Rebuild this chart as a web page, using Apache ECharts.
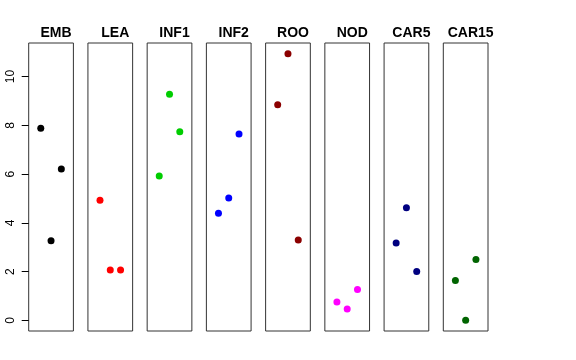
<!DOCTYPE html>
<html><head><meta charset="utf-8">
<script src="https://cdn.jsdelivr.net/npm/echarts@6/dist/echarts.min.js"></script>
<style>html,body{margin:0;padding:0;background:#fff}#c{width:576px;height:360px}</style>
</head><body><div id="c"></div>
<script>
var categories = ['EMB','LEA','INF1','INF2','ROO','NOD','CAR5','CAR15'];
var colors = ['#000000','#FF0000','#00CD00','#0000FF','#8B0000','#FF00FF','#000080','#006400'];
var xPositions = [0.77, 1.0, 1.23];
var EMB = [7.88, 3.26, 6.21];
var LEA = [4.93, 2.06, 2.06];
var INF1 = [5.92, 9.28, 7.74];
var INF2 = [4.39, 5.02, 7.64];
var ROO = [8.84, 10.94, 3.30];
var NOD = [0.75, 0.46, 1.26];
var CAR5 = [3.17, 4.62, 2.00];
var CAR15 = [1.63, 0.00, 2.50];
var yTicks = [0, 2, 4, 6, 8, 10];
var seriesValues = [EMB, LEA, INF1, INF2, ROO, NOD, CAR5, CAR15];

var yMin = -0.4376, yMax = 11.3776;
var left0 = 28.7, step = 59.23, panelW = 44.7, gridTop = 43, panelH = 288;
var grids = [], xAxes = [], yAxes = [], series = [], titles = [];
categories.forEach(function(name, i){
  var l = left0 + i*step;
  grids.push({left: l, top: gridTop, width: panelW, height: panelH, show: true, borderColor: '#333', borderWidth: 1, backgroundColor: 'transparent'});
  xAxes.push({type:'value', gridIndex:i, min:0.5, max:1.5, show:false});
  var ya = {type:'value', gridIndex:i, min:yMin, max:yMax, splitLine:{show:false}};
  if (i === 0) {
    ya.axisLine = {show:false};
    ya.axisTick = {show:true, length:7, customValues: yTicks, lineStyle:{color:'#000'}};
    ya.axisLabel = {show:true, customValues: yTicks, rotate:90, margin:12, fontSize:12, color:'#000', fontFamily:'Liberation Sans, Arial, sans-serif'};
  } else {
    ya.axisLine = {show:false}; ya.axisTick = {show:false}; ya.axisLabel = {show:false};
  }
  yAxes.push(ya);
  series.push({type:'scatter', xAxisIndex:i, yAxisIndex:i, symbolSize:7, itemStyle:{color:colors[i], opacity:1},
    data: seriesValues[i].map(function(v,j){return [xPositions[j], v];})});
  titles.push({text:name, left: l + panelW/2, top: 21, textAlign:'center',
    textStyle:{fontSize:14, fontWeight:'bold', color:'#000', fontFamily:'Liberation Sans, Arial, sans-serif'}});
});
var chart = echarts.init(document.getElementById('c'), null, {renderer:'canvas'});
chart.setOption({animation:false, title: titles, grid: grids, xAxis: xAxes, yAxis: yAxes, series: series});
</script></body></html>
